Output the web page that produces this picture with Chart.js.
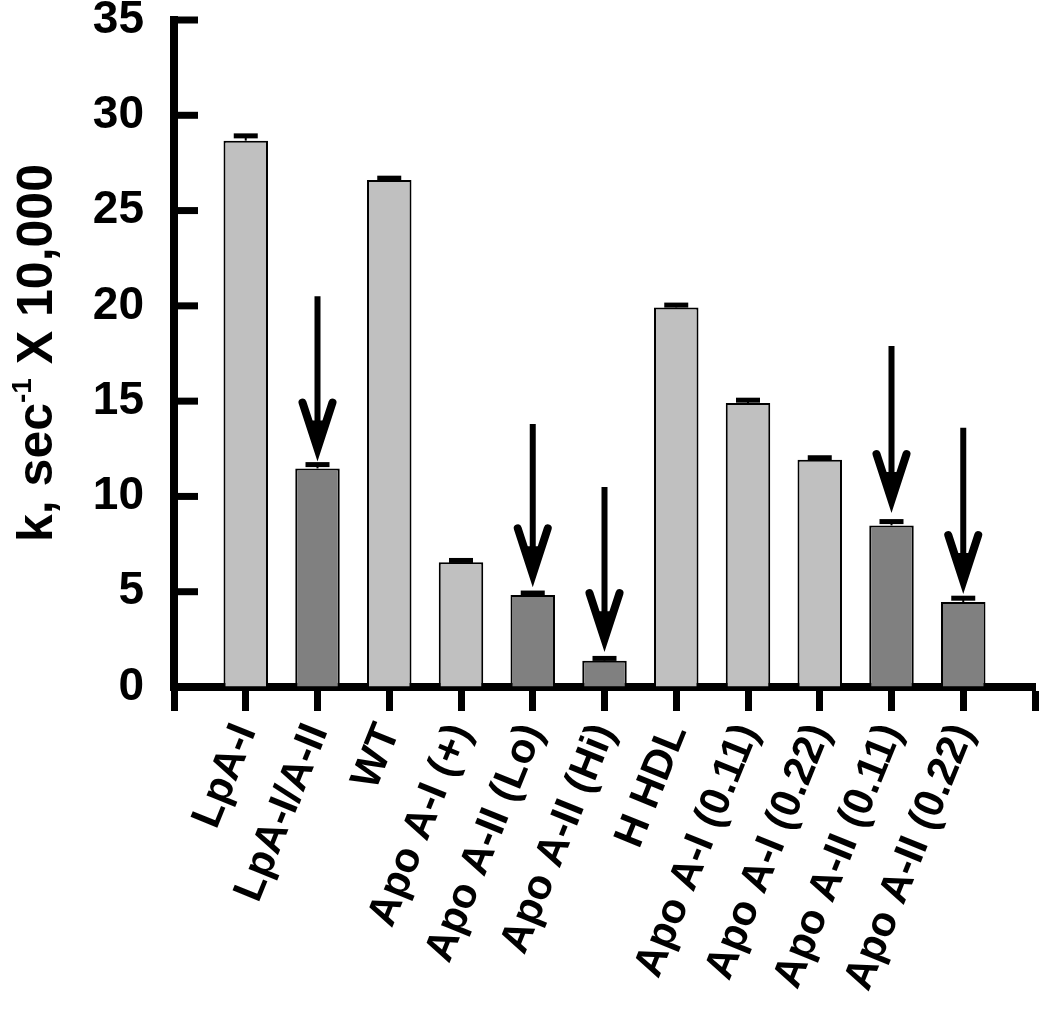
<!DOCTYPE html>
<html>
<head>
<meta charset="utf-8">
<script src="https://cdn.jsdelivr.net/npm/chart.js@4"></script>
<style>
  html, body { margin: 0; padding: 0; background: #fff; }
  #wrap { position: absolute; left: 0; top: 0; width: 1050px; height: 1032px; }
</style>
</head>
<body>
<div id="wrap"><canvas id="rateChart"></canvas></div>
<script>
const categories = ['LpA-I', 'LpA-I/A-II', 'WT', 'Apo A-I (+)', 'Apo A-II (Lo)', 'Apo A-II (Hi)',
  'H HDL', 'Apo A-I (0.11)', 'Apo A-I (0.22)', 'Apo A-II (0.11)', 'Apo A-II (0.22)'];
const rates = [28.67, 11.47, 26.6, 6.54, 4.83, 1.38, 19.92, 14.9, 11.93, 8.48, 4.46];
const errors = [0.25, 0.2, 0.1, 0.1, 0.1, 0.12, 0.12, 0.15, 0.1, 0.2, 0.2];
const dark = [false, true, false, false, true, true, false, false, false, true, true];
const arrowFrom = [null, 20.5, null, null, 13.8, 10.5, null, null, null, 17.9, 13.6];
const arrowTo = [null, 12.3, null, null, 5.7, 2.3, null, null, null, 9.6, 5.35];
const yTicks = [0, 5, 10, 15, 20, 25, 30, 35];

const FONT = '"Liberation Sans", Arial, sans-serif';
// empty slots at both ends so the axis ticks sit at the ends too
const labels = ['', ...categories, ''];
const padded = (arr) => [null, ...arr, null];

const marks = {
  id: 'marks',
  afterDraw(chart) {
    const ctx = chart.ctx;
    const y = chart.scales.y;
    const area = chart.chartArea;
    const bars = chart.getDatasetMeta(0).data;
    ctx.save();
    ctx.strokeStyle = '#000';
    ctx.fillStyle = '#000';

    // inward y ticks
    ctx.lineWidth = 7;
    for (const v of yTicks) {
      const py = y.getPixelForValue(v);
      ctx.beginPath();
      ctx.moveTo(area.left, py);
      ctx.lineTo(area.left + 24, py);
      ctx.stroke();
    }

    // error caps
    rates.forEach((v, i) => {
      const bar = bars[i + 1];
      const top = y.getPixelForValue(v);
      const py = y.getPixelForValue(v + errors[i]);
      ctx.lineWidth = 2;
      ctx.beginPath();
      ctx.moveTo(bar.x, top);
      ctx.lineTo(bar.x, py);
      ctx.stroke();
      ctx.lineWidth = 5;
      ctx.beginPath();
      ctx.moveTo(bar.x - 12, py);
      ctx.lineTo(bar.x + 12, py);
      ctx.stroke();
    });

    // arrows above the dark bars
    arrowFrom.forEach((from, i) => {
      if (from == null) return;
      const x = bars[i + 1].x;
      const y1 = y.getPixelForValue(from);
      const y2 = y.getPixelForValue(arrowTo[i]);
      ctx.lineWidth = 6;
      ctx.beginPath();
      ctx.moveTo(x, y1);
      ctx.lineTo(x, y2 - 8);
      ctx.stroke();
      ctx.lineWidth = 8;
      ctx.lineCap = 'round';
      ctx.beginPath();
      ctx.moveTo(x - 15, y2 - 50);
      ctx.lineTo(x, y2 - 4);
      ctx.lineTo(x + 15, y2 - 50);
      ctx.stroke();
      ctx.lineCap = 'butt';
      ctx.beginPath();
      ctx.moveTo(x - 9, y2 - 32);
      ctx.lineTo(x, y2);
      ctx.lineTo(x + 9, y2 - 32);
      ctx.closePath();
      ctx.fill();
    });

    // y title with superscript
    const main1 = 'k, sec';
    const sup = '-1';
    const main2 = ' X 10,000';
    const bigFont = 'bold 50px ' + FONT;
    const smallFont = 'bold 28px ' + FONT;
    ctx.font = bigFont;
    const w1 = ctx.measureText(main1).width;
    const w3 = ctx.measureText(main2).width;
    ctx.font = smallFont;
    const w2 = ctx.measureText(sup).width;
    const total = w1 + w2 + w3;
    ctx.translate(52, 353);
    ctx.rotate(-Math.PI / 2);
    ctx.textBaseline = 'alphabetic';
    ctx.textAlign = 'left';
    let tx = -total / 2;
    ctx.font = bigFont;
    ctx.fillText(main1, tx, 0);
    tx += w1;
    ctx.font = smallFont;
    ctx.fillText(sup, tx, -21);
    tx += w2;
    ctx.font = bigFont;
    ctx.fillText(main2, tx, 0);
    ctx.restore();
  }
};

new Chart(document.getElementById('rateChart'), {
  type: 'bar',
  data: {
    labels,
    datasets: [{
      data: padded(rates),
      backgroundColor: padded(dark.map((d) => (d ? '#808080' : '#c0c0c0'))),
      borderColor: '#000',
      borderWidth: 2,
      barPercentage: 0.62,
      categoryPercentage: 1,
    }],
  },
  options: {
    responsive: true,
    maintainAspectRatio: false,
    animation: false,
    layout: { padding: { top: 20, right: 15, left: 0, bottom: 0 } },
    plugins: {
      legend: { display: false },
      tooltip: { enabled: false },
    },
    scales: {
      x: {
        offset: false,
        grid: {
          offset: false,
          drawOnChartArea: false,
          drawTicks: true,
          tickLength: 24,
          tickWidth: 7,
          tickColor: '#000',
        },
        border: { width: 8, color: '#000' },
        ticks: {
          autoSkip: false,
          minRotation: 68,
          maxRotation: 68,
          padding: 6,
          color: '#000',
          font: { family: FONT, size: 42, weight: 'bold' },
        },
        afterFit(scale) {
          scale.height = 345;
          scale.paddingLeft = 0;
          scale.paddingRight = 0;
        },
      },
      y: {
        min: 0,
        max: 35,
        grid: { drawOnChartArea: false, drawTicks: false },
        border: { width: 8, color: '#000' },
        ticks: {
          stepSize: 5,
          padding: 30,
          color: '#000',
          font: { family: FONT, size: 46, weight: 'bold' },
        },
        afterFit(scale) {
          scale.width = 174;
          scale.paddingTop = 0;
          scale.paddingBottom = 0;
        },
      },
    },
  },
  plugins: [marks],
});
</script>
</body>
</html>
